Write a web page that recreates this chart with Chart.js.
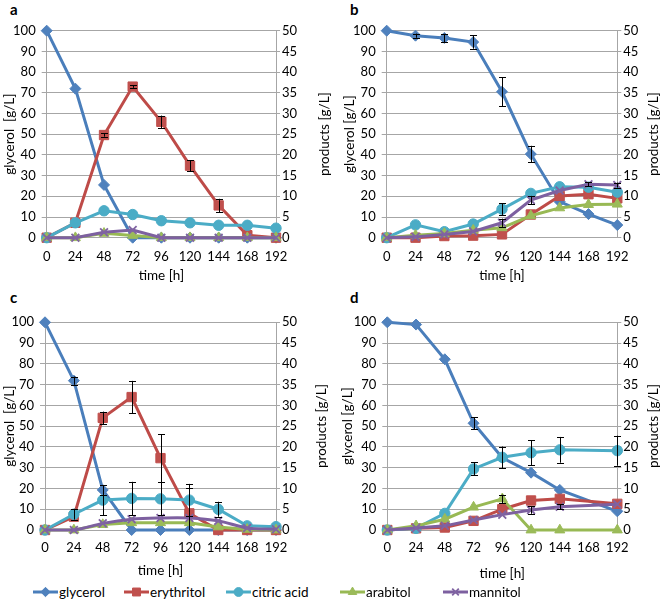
<!DOCTYPE html>
<html><head><meta charset="utf-8">
<script src="https://cdn.jsdelivr.net/npm/chart.js@4.4.0/dist/chart.umd.min.js"></script>
<style>
body{margin:0;background:#fff;width:660px;height:607px;overflow:hidden;position:relative;font-family:Lato,"Open Sans",sans-serif;}
canvas.panel{position:absolute;}
.lab{position:absolute;font-weight:bold;font-size:15px;color:#000;line-height:15px;}
.leg{position:absolute;top:584px;height:16px;display:flex;align-items:center;font-size:13.5px;color:#000;}
.leg canvas{margin-right:1px;}
</style></head><body>
<div class="lab" style="left:10px;top:2px">a</div>
<div class="lab" style="left:350px;top:2px">b</div>
<div class="lab" style="left:10px;top:290px">c</div>
<div class="lab" style="left:350px;top:290px">d</div>
<canvas id="pa" class="panel"></canvas>
<canvas id="pb" class="panel"></canvas>
<canvas id="pc" class="panel"></canvas>
<canvas id="pd" class="panel"></canvas>
<div id="legend"></div>
<script>
// ---------- DATA ----------
const times = ['0','24','48','72','96','120','144','168','192'];
const seriesNames = ['glycerol','erythritol','citric acid','arabitol','mannitol'];

// panel a
const aGlycerol   = [100, 72, 25.5, 0, 0, 0, 0, 0, 0];
const aErythritol = [0, 3.6, 24.8, 36.5, 28, 17.4, 7.8, 0.6, 0];
const aCitric     = [0, 3.6, 6.5, 5.6, 4.1, 3.6, 3, 3, 2.3];
const aArabitol   = [0, 0, 1.05, 0.55, 0, 0, 0, 0, 0];
const aMannitol   = [0, 0, 1.3, 1.85, 0, 0, 0, 0, 0];
const aErythritolErr = [0, 0, 0.4, 0.3, 1.5, 1.3, 1.6, 0, 0];

// panel b
const bGlycerol   = [100, 97.6, 96.5, 94.5, 70.5, 40.4, 17.4, 11.4, 6.1];
const bErythritol = [0, 0, 0.4, 0.5, 0.8, 5.6, 10.1, 10.5, 9.5];
const bCitric     = [0, 3.1, 1.45, 3.3, 6.9, 10.7, 12.3, 12.2, 11];
const bArabitol   = [0, 0.6, 1, 1.8, 2.4, 5.3, 7.2, 8, 8.1];
const bMannitol   = [0, 0.2, 0.8, 1.5, 3.6, 9.1, 11.4, 12.9, 12.7];
const bGlycerolErr = [0, 1, 2, 3.2, 7, 4, 0, 0, 0];
const bCitricErr   = [0, 0, 0, 0, 1.4, 0, 0, 0, 0];
const bMannitolErr = [0, 0, 0, 0, 1, 1, 0, 0.5, 0.6];

// panel c
const cGlycerol   = [100, 71.9, 19.3, 0, 0, 0, 0, 0, 0];
const cErythritol = [0, 3.2, 27, 32, 17.3, 4, 0, 0, 0];
const cCitric     = [0, 3.8, 7.2, 7.6, 7.5, 7.2, 5, 1, 0.8];
const cArabitol   = [0, 0, 1.3, 1.75, 1.75, 1.75, 0.75, 0.15, 0];
const cMannitol   = [0, 0, 1.6, 2.6, 2.9, 2.9, 2.2, 0.5, 0.2];
const cGlycerolErr   = [0, 2, 2.3, 0, 0, 0, 0, 0, 0];
const cErythritolErr = [0, 0, 1.5, 3.9, 5.8, 6, 0, 0, 0];
const cCitricErr     = [0, 1.3, 3.6, 4, 4, 3.9, 1.8, 0, 0];

// panel d (no sample at 168 h)
const dGlycerol   = [100, 98.9, 82.2, 51.4, 34.8, 27.6, 19.3, null, 9];
const dErythritol = [0, 0.4, 0.6, 2.2, 5, 7.1, 7.5, null, 6.3];
const dCitric     = [0, 0.4, 4, 14.7, 17.5, 18.6, 19.3, null, 19.1];
const dArabitol   = [0, 1, 2.6, 5.5, 7.5, 0, 0, null, 0];
const dMannitol   = [0, 0.5, 1, 2.4, 3.7, 4.8, 5.6, null, 6.2];
const dGlycerolErr = [0, 0, 0, 3, 0, 0, 0, null, 0];
const dCitricErr   = [0, 0, 0, 1.55, 2.6, 2.95, 3.1, null, 3.6];
const dArabitolErr = [0, 0, 0, 0, 1, 0, 0, null, 0];
const dMannitolErr = [0, 0, 0, 0, 0, 0.9, 0.6, null, 0];

// ---------- STYLE ----------
const FONT = 'Lato, "Open Sans", sans-serif';
const styles = [
  {color:'#4A7EBB', fill:'#4F81BD', pointStyle:'rectRot', radius:5.5},
  {color:'#BE4B48', fill:'#C0504D', pointStyle:'rect', radius:6.6},
  {color:'#4BACC6', fill:'#4BACC6', pointStyle:'circle', radius:5.2},
  {color:'#98B954', fill:'#9BBB59', pointStyle:'triangle', radius:5.8},
  {color:'#7D60A0', fill:'#8064A2', pointStyle:'crossRot', radius:5.5}
];
const GRID = '#a6a6a6';
const TICK_SIZE = 13;
const TITLE_SIZE = 13.5;

const errorBars = {
  id:'errbars',
  afterDatasetsDraw(chart){
    const ctx = chart.ctx, area = chart.chartArea;
    ctx.save();
    ctx.beginPath();
    ctx.rect(area.left-6, area.top-1, area.right-area.left+12, area.bottom-area.top+1.5);
    ctx.clip();
    ctx.strokeStyle = '#000';
    ctx.lineWidth = 1;
    chart.data.datasets.forEach((ds,i)=>{
      if(!ds.errors) return;
      const meta = chart.getDatasetMeta(i);
      const ys = chart.scales[ds.yAxisID];
      ds.errors.forEach((e,j)=>{
        const v = ds.data[j];
        if(!e || v==null) return;
        const x = Math.round(meta.data[j].x)+0.5;
        const yt = ys.getPixelForValue(v+e), yb = ys.getPixelForValue(v-e);
        ctx.beginPath();
        ctx.moveTo(x, yt); ctx.lineTo(x, yb);
        ctx.moveTo(x-3.5, Math.round(yt)+0.5); ctx.lineTo(x+3.5, Math.round(yt)+0.5);
        ctx.moveTo(x-3.5, Math.round(yb)+0.5); ctx.lineTo(x+3.5, Math.round(yb)+0.5);
        ctx.stroke();
      });
    });
    ctx.restore();
  }
};

// right-axis title, reading bottom-to-top like the left one
const rightTitle = {
  id:'rightTitle',
  afterDraw(chart, args, opts){
    const ctx = chart.ctx, area = chart.chartArea;
    ctx.save();
    ctx.translate(opts.x, (area.top+area.bottom)/2);
    ctx.rotate(-Math.PI/2);
    ctx.font = TITLE_SIZE + 'px ' + FONT;
    ctx.fillStyle = '#000';
    ctx.textAlign = 'center';
    ctx.textBaseline = 'middle';
    ctx.fillText(opts.text, 0, 0);
    ctx.restore();
  }
};

function makePanel(id, g, series, errs, leftTitle, smoothLast){
  const cv = document.getElementById(id);
  cv.width = g.w; cv.height = g.h;
  cv.style.left = g.left+'px'; cv.style.top = g.top+'px';
  const leftW = g.pl - g.left, rightW = g.left + g.w - g.pr;
  const padTop = g.pt - g.top, xH = g.top + g.h - g.pb;
  const titleLH = TITLE_SIZE*1.2/2;
  const datasets = series.map((d,k)=>({
    label: seriesNames[k],
    data: d,
    errors: errs[k] || null,
    yAxisID: k===0 ? 'y' : 'y1',
    borderColor: styles[k].color,
    backgroundColor: styles[k].fill,
    pointBackgroundColor: styles[k].fill,
    pointBorderColor: styles[k].fill,
    pointStyle: styles[k].pointStyle,
    pointRadius: styles[k].radius,
    pointBorderWidth: k===4 ? 1.8 : 1,
    borderWidth: 3,
    tension: (k===4 && smoothLast) ? 0.35 : 0,
    spanGaps: true,
    order: 5-k,
    clip: 8
  }));
  const tickFont = {family:FONT, size:TICK_SIZE, lineHeight:1.2};
  return new Chart(cv, {
    type:'line',
    data:{labels:times, datasets},
    options:{
      responsive:false, animation:false, devicePixelRatio:1,
      layout:{padding:{top:padTop, left:0, right:0, bottom:0}},
      plugins:{legend:{display:false}, tooltip:{enabled:false},
               rightTitle:{text:'products [g/L]', x:g.trx - g.left}},
      scales:{
        x:{
          type:'category', offset:false,
          grid:{display:false, drawTicks:false},
          border:{display:true, color:GRID, width:1},
          ticks:{font:tickFont, color:'#000', padding:g.txy - g.pb - TICK_SIZE*0.6, maxRotation:0, autoSkip:false},
          title:{display:true, text:'time [h]', font:{family:FONT, size:TITLE_SIZE, lineHeight:1.2}, color:'#000',
                 padding:{top:0, bottom:(g.top+g.h-g.tby)-titleLH}},
          afterFit(s){ s.height = xH; }
        },
        y:{
          position:'left', min:0, max:100,
          grid:{color:GRID, lineWidth:1, drawTicks:true, tickLength:5, tickColor:GRID},
          border:{display:true, color:GRID, width:1},
          ticks:{stepSize:10, font:tickFont, color:'#000', padding:6},
          title:{display:true, text:leftTitle, font:{family:FONT, size:TITLE_SIZE, lineHeight:1.2}, color:'#000',
                 padding:{top:(g.tlx - g.left) - titleLH, bottom:0}},
          afterFit(s){ s.width = leftW; }
        },
        y1:{
          position:'right', min:0, max:50,
          grid:{display:true, drawOnChartArea:false, drawTicks:true, tickLength:4, tickColor:GRID, color:GRID},
          border:{display:true, color:GRID, width:1},
          ticks:{stepSize:5, font:tickFont, color:'#000', padding:2},
          title:{display:false},
          afterFit(s){ s.width = rightW; }
        }
      }
    },
    plugins:[errorBars, rightTitle]
  });
}

// layout geometry (page coordinates)
const gA = {left:0,   top:0,   w:334, h:287, pl:46.7,  pr:276,   pt:30.7,  pb:237.7, tlx:10,  trx:325, tby:276, txy:257};
const gB = {left:330, top:0,   w:334, h:287, pl:386.7, pr:617.3, pt:30.7,  pb:237.7, tlx:350, trx:654, tby:276, txy:257};
const gC = {left:0,   top:295, w:334, h:288, pl:45,    pr:276,   pt:322.3, pb:530,   tlx:10,  trx:322, tby:571, txy:548};
const gD = {left:330, top:295, w:334, h:288, pl:387.3, pr:617.3, pt:322.3, pb:530,   tlx:348, trx:654, tby:574, txy:548};

makePanel('pa', gA, [aGlycerol,aErythritol,aCitric,aArabitol,aMannitol], [null,aErythritolErr,null,null,null], 'glycerol  [g/L]', false);
makePanel('pb', gB, [bGlycerol,bErythritol,bCitric,bArabitol,bMannitol], [bGlycerolErr,null,bCitricErr,null,bMannitolErr], 'glycerol [g/L]', false);
makePanel('pc', gC, [cGlycerol,cErythritol,cCitric,cArabitol,cMannitol], [cGlycerolErr,cErythritolErr,cCitricErr,null,null], 'glycerol  [g/L]', true);
makePanel('pd', gD, [dGlycerol,dErythritol,dCitric,dArabitol,dMannitol], [dGlycerolErr,null,dCitricErr,dArabitolErr,dMannitolErr], 'glycerol [g/L]', false);

// legend
const legX = [33, 124, 226, 340, 443];
const legend = document.getElementById('legend');
seriesNames.forEach((name,k)=>{
  const item = document.createElement('div');
  item.className = 'leg';
  item.style.left = legX[k]+'px';
  const c = document.createElement('canvas');
  c.width = 25; c.height = 16;
  item.appendChild(c);
  const sp = document.createElement('span');
  sp.textContent = name;
  item.appendChild(sp);
  legend.appendChild(item);
  const ctx = c.getContext('2d');
  ctx.strokeStyle = styles[k].color; ctx.lineWidth = 3;
  ctx.beginPath(); ctx.moveTo(0,8); ctx.lineTo(25,8); ctx.stroke();
  ctx.fillStyle = styles[k].fill; ctx.strokeStyle = styles[k].fill;
  ctx.lineWidth = k===4 ? 1.8 : 1;
  Chart.helpers.drawPoint(ctx, {pointStyle:styles[k].pointStyle, radius:styles[k].radius*0.85, rotation:0, borderWidth:ctx.lineWidth}, 12.5, 8);
});
</script>
</body></html>
